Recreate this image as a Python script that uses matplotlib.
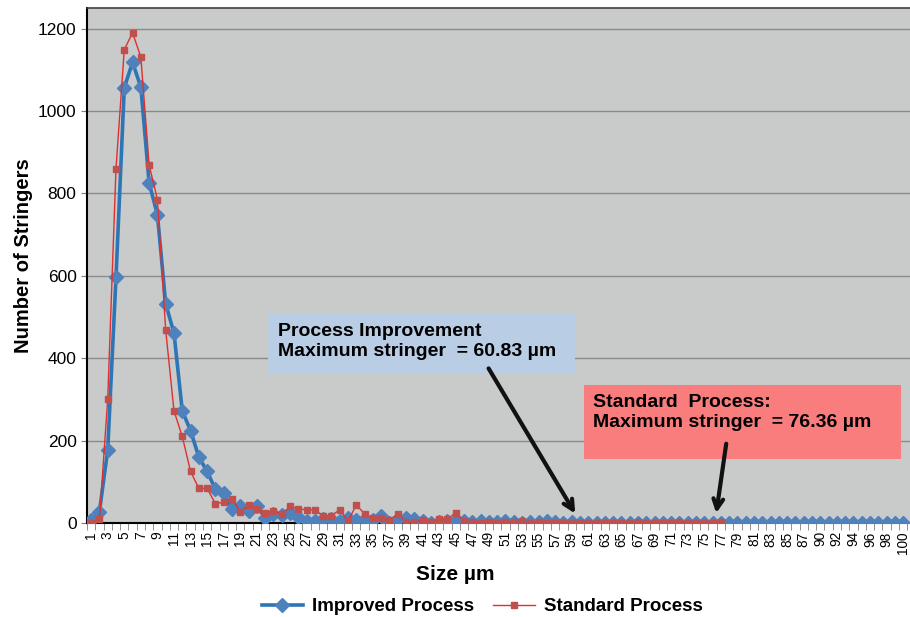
import matplotlib
matplotlib.use("Agg")
import matplotlib.pyplot as plt
from matplotlib.lines import Line2D

plt.rcParams['font.family'] = ['Liberation Sans', 'DejaVu Sans']

# size classes (um) - 89 is not in the table
sizes = list(range(1, 89)) + list(range(90, 101))

improved = [6, 27, 177, 596, 1057, 1118, 1058, 825, 748, 532,
            461, 272, 224, 160, 125, 82, 72, 35, 40, 28,
            42, 12, 22, 20, 25, 15, 5, 5, 9, 9,
            5, 13, 7, 9, 7, 17, 0, 9, 13, 10,
            5, 0, 3, 5, 7, 4, 2, 5, 3, 2,
            5, 3, 0, 3, 2, 5, 2, 0, 2, 1,
            1, 0, 1, 0, 1, 0, 1, 0, 1, 0,
            1, 0, 1, 0, 1, 0, 1, 0, 1, 0,
            1, 0, 1, 0, 1, 0, 1, 0, 1, 0,
            1, 0, 1, 0, 1, 0, 1, 0, 0]

standard = [0, 9, 300, 860, 1149, 1190, 1131, 869, 785, 468,
            272, 210, 125, 84, 84, 47, 50, 59, 27, 43,
            35, 25, 29, 22, 40, 34, 32, 32, 17, 18,
            32, 4, 44, 22, 11, 11, 7, 22, 2, 2,
            6, 2, 9, 9, 25, 5, 2, 0, 2, 0,
            2, 2, 5, 0, 2, 0, 1, 1, 1, 1,
            1, 1, 1, 1, 1, 1, 3, 1, 1, 1,
            1, 3, 1, 1, 1, 1, 3]

x_imp = range(len(improved))
x_std = range(len(standard))

fig = plt.figure(figsize=(9.1, 6.17), dpi=100)
ax = fig.add_axes([0.0956, 0.1524, 0.905, 0.8346])
ax.set_facecolor('#C9CACA')

ax.plot(x_imp, improved, '-', color='#2E75B6', lw=2.6, marker='D',
        markersize=7.5, markerfacecolor='#4F81BD', markeredgecolor='#4F81BD',
        label='Improved Process', zorder=3)
ax.plot(x_std, standard, '-', color='#E0302E', lw=1.0, marker='s',
        markersize=4.5, markerfacecolor='#C0504D', markeredgecolor='#C0504D',
        label='Standard Process', zorder=4)

ax.set_xlim(-0.48, 98.9)
ax.set_ylim(0, 1250)
ax.set_yticks(range(0, 1201, 200))
ax.yaxis.grid(True, color='#8A8A8A', lw=1.0)
ax.set_axisbelow(True)

ax.set_xticks(range(0, len(sizes), 2))
ax.set_xticklabels([str(s) for s in sizes[::2]], rotation=90, fontsize=9.8)
ax.set_xticks([i + 0.5 for i in range(-1, len(sizes))], minor=True)
ax.tick_params(axis='x', which='major', length=0, pad=6)
ax.tick_params(axis='x', which='minor', length=5, color='#7F7F7F')
ax.tick_params(axis='y', length=4, color='#7F7F7F', labelsize=12.5)

for side in ['left', 'bottom']:
    ax.spines[side].set_color('black')
    ax.spines[side].set_linewidth(1.5)
ax.spines['top'].set_color('#404040')
ax.spines['top'].set_linewidth(1.2)
ax.spines['right'].set_visible(False)

ax.set_xlabel('Size µm', fontsize=15, fontweight='bold')
ax.xaxis.set_label_coords(0.447, -0.082)
ax.set_ylabel('Number of Stringers', fontsize=14.5, fontweight='bold')
ax.yaxis.set_label_coords(-0.0656, 0.52)

# annotation boxes
ax.add_patch(plt.Rectangle((0.220, 0.291), 0.373, 0.1165, transform=ax.transAxes,
                           facecolor='#B9CDE5', edgecolor='none', zorder=5))
ax.text(0.232, 0.352, 'Process Improvement\nMaximum stringer  = 60.83 µm',
        transform=ax.transAxes, fontsize=14, fontweight='bold', va='center',
        ha='left', linespacing=1.2, zorder=6)
ax.add_patch(plt.Rectangle((0.603, 0.124), 0.385, 0.1437, transform=ax.transAxes,
                           facecolor='#FA7D7D', edgecolor='none', zorder=5))
ax.text(0.615, 0.2146, 'Standard  Process:\nMaximum stringer  = 76.36 µm',
        transform=ax.transAxes, fontsize=14, fontweight='bold', va='center',
        ha='left', linespacing=1.2, zorder=6)

ax.annotate('', xy=(58.6, 17), xytext=(47.8, 381),
            arrowprops=dict(arrowstyle='->,head_length=0.7,head_width=0.35',
                            color='#111111', lw=3), zorder=7)
ax.annotate('', xy=(75.4, 17), xytext=(76.7, 199),
            arrowprops=dict(arrowstyle='->,head_length=0.7,head_width=0.35',
                            color='#111111', lw=3), zorder=7)

handles = [Line2D([], [], color='#2E75B6', lw=2.6, marker='D', markersize=7.5,
                  markerfacecolor='#4F81BD', markeredgecolor='#4F81BD'),
           Line2D([], [], color='#E0302E', lw=1.0, marker='s', markersize=4.5,
                  markerfacecolor='#C0504D', markeredgecolor='#C0504D')]
fig.legend(handles, ['Improved Process', 'Standard Process'], loc='center',
           bbox_to_anchor=(0.53, 0.017), ncol=2, frameon=False,
           prop={'weight': 'bold', 'size': 13.5}, handlelength=2.2,
           columnspacing=1.0, handletextpad=0.5)

fig.savefig('out.png', dpi=100)
